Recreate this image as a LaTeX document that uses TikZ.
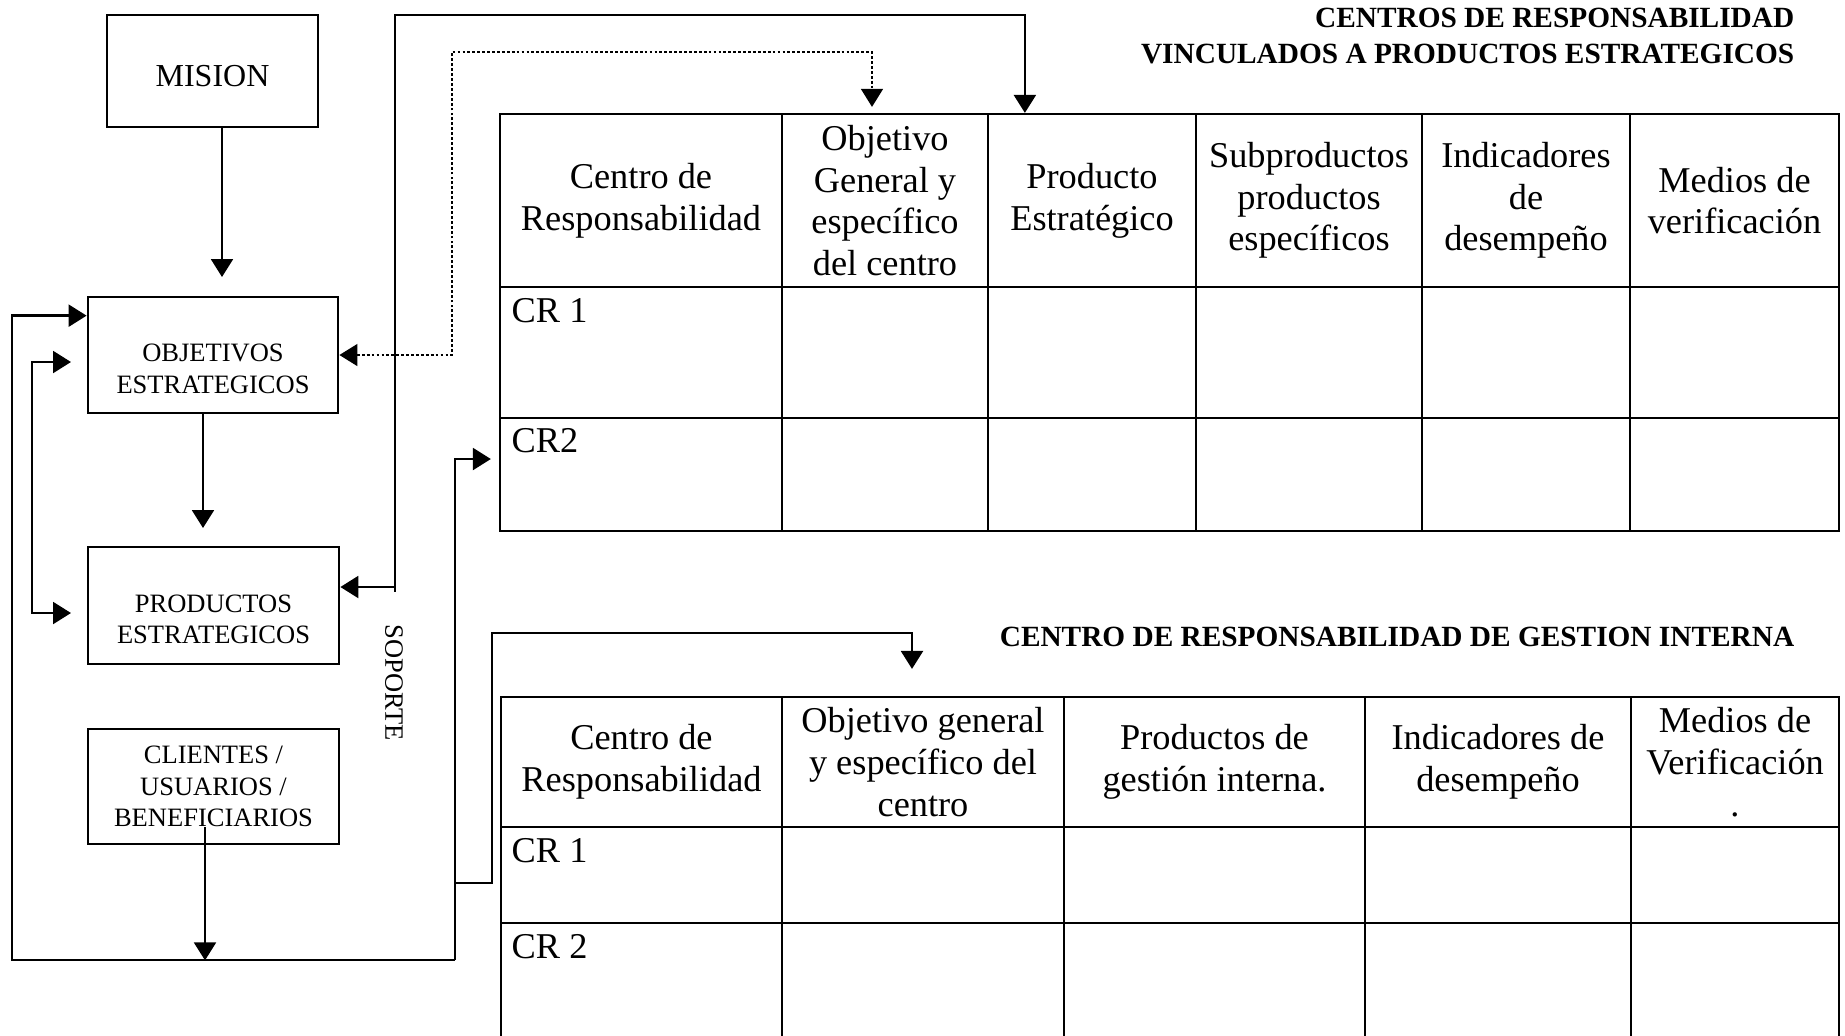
\documentclass[tikz,border=0pt]{standalone}
\usepackage{fontspec}
\setmainfont{Liberation Serif}
\usetikzlibrary{arrows.meta,calc}
\newcommand\dgTab{\fontsize{10.33pt}{11.86pt}\selectfont}
\newcommand\dgBox{\fontsize{7.54pt}{8.96pt}\selectfont}
\newcommand\dgMis{\fontsize{9.1pt}{10.5pt}\selectfont}
\newcommand\dgTit{\fontsize{8.34pt}{9.96pt}\selectfont\bfseries}
\begin{document}
\begin{tikzpicture}[x=0.01cm, y=-0.01cm,
  >={Triangle[length=5.1pt,width=6.2pt]},
  box/.style={draw, line width=0.75pt, inner sep=0pt},
  blbl/.style={font=\dgBox, align=center, inner sep=0pt},
  cell/.style={draw, line width=0.6pt, inner sep=0pt, align=center, font=\dgTab},
  conn/.style={line width=0.75pt},
  dotconn/.style={line width=0.5pt, dash pattern=on 0.8pt off 0.6pt},
  crlbl/.style={anchor=base west, font=\dgTab, inner sep=0pt},
  ttl/.style={font=\dgTit, inner sep=0pt}]
\useasboundingbox (0,0) rectangle (1845,1035);
\fill[white] (0,0) rectangle (1845,1035);
\clip (0,0) rectangle (1845,1035);

% ---------- left boxes ----------
\node[box, minimum width=2.11cm, minimum height=1.12cm,
  label={[blbl, font=\dgMis, yshift=-0.055cm]center:MISION}] (mision) at (212.5,71) {};
\node[box, minimum width=2.50cm, minimum height=1.16cm,
  label={[blbl, yshift=-0.14cm]center:{OBJETIVOS\\ESTRATEGICOS}}] (obj) at (213,355) {};
\node[box, minimum width=2.51cm, minimum height=1.17cm,
  label={[blbl, yshift=-0.14cm]center:{PRODUCTOS\\ESTRATEGICOS}}] (prod) at (213.5,605.5) {};
\node[box, minimum width=2.51cm, minimum height=1.15cm, font=\dgBox, align=center]
  (cli) at (213.5,786.5) {CLIENTES /\\USUARIOS /\\BENEFICIARIOS};
\node[font=\dgBox, rotate=-90, inner sep=0pt] (soporte) at (394,683) {SOPORTE};

% ---------- table 1 ----------
\foreach \c/\x/\w/\txt in {
  a/641/2.82/{Centro de\\Responsabilidad},
  b/885/2.06/{Objetivo\\General y\\específico\\del centro},
  c/1092/2.08/{Producto\\Estratégico},
  d/1309/2.26/{Subproductos\\productos\\específicos},
  e/1526/2.08/{Indicadores\\de\\desempeño},
  f/1734.5/2.09/{Medios de\\verificación}} {
  \node[cell, minimum width=\w cm, minimum height=1.73cm] (t1h\c) at (\x,200.5) {\txt};
  \node[cell, minimum width=\w cm, minimum height=1.31cm] (t1r\c) at (\x,352.5) {};
  \node[cell, minimum width=\w cm, minimum height=1.13cm] (t1s\c) at (\x,474.5) {};
}
\node[crlbl] (cr11) at (511,322) {CR 1};
\node[crlbl] (cr12) at (511,452) {CR2};

% ---------- table 2 ----------
\foreach \c/\x/\w/\txt in {
  a/641.5/2.81/{Centro de\\Responsabilidad},
  b/923/2.82/{Objetivo general\\y específico del\\centro},
  c/1214.5/3.01/{Productos de\\gestión interna.},
  d/1498/2.66/{Indicadores de\\desempeño},
  e/1735/2.08/{Medios de\\Verificación\\.}} {
  \node[cell, minimum width=\w cm, minimum height=1.30cm] (t2h\c) at (\x,762) {\txt};
  \node[cell, minimum width=\w cm, minimum height=0.96cm] (t2r\c) at (\x,875) {};
  \node[cell, minimum width=\w cm, minimum height=1.17cm] (t2s\c) at (\x,981.5) {};
}
\node[crlbl] (cr21) at (511,862) {CR 1};
\node[crlbl] (cr22) at (511,958) {CR 2};

% ---------- titles ----------
\node[ttl, anchor=base east, align=right] (tit1) at (1795,63)
  {CENTROS DE RESPONSABILIDAD\\VINCULADOS A PRODUCTOS ESTRATEGICOS};
\node[ttl, anchor=base east] (tit2) at (1795,646)
  {CENTRO DE RESPONSABILIDAD DE GESTION INTERNA};

% ---------- connector end points ----------
\coordinate (mtip) at (222,277);
\coordinate (ptip) at (203,528);
\coordinate (ia) at (71,362);
\coordinate (ib) at (71,613);
\coordinate (bl) at (12,960);
\coordinate (br) at (455,960);
\coordinate (t1tip) at ($(t1sa.west)+(-8,-15.5)$);
\coordinate (t2tip) at ($(t2hb.north)+(-11,-27)$);
\coordinate (dtip) at ($(t1hb.north)+(-13,-6)$);

% ---------- connectors ----------
\draw[conn,->] (mision.south -| mtip) -- (mtip);
\draw[conn,->] (obj.south -| ptip) -- (ptip);
\draw[conn,<->] (ia) -- (32,362) -- (32,613) -- (ib);
\draw[conn,->] ($(cli.south)+(-8.5,-18)$) -- ($(cli.south)+(-8.5,115)$);
\draw[conn,->] (br) -- (bl) |- ($(obj.north west)+(0,20)$);
\draw[conn,->] (br) |- (t1tip);
\draw[conn,->] (455,883) -- (492,883) -- (492,633) -| (t2tip);
\draw[conn,<->] ($(prod.east)+(0,-18.5)$) -- (395,587) -- (395,15) -| ($(t1hc.north west)+(38,0)$);
\draw[conn] (395,587) -- (395,592);
\draw[dotconn,<->] (obj.east) -- (452,355) -- (452,52) -| (dtip);
\end{tikzpicture}
\end{document}
